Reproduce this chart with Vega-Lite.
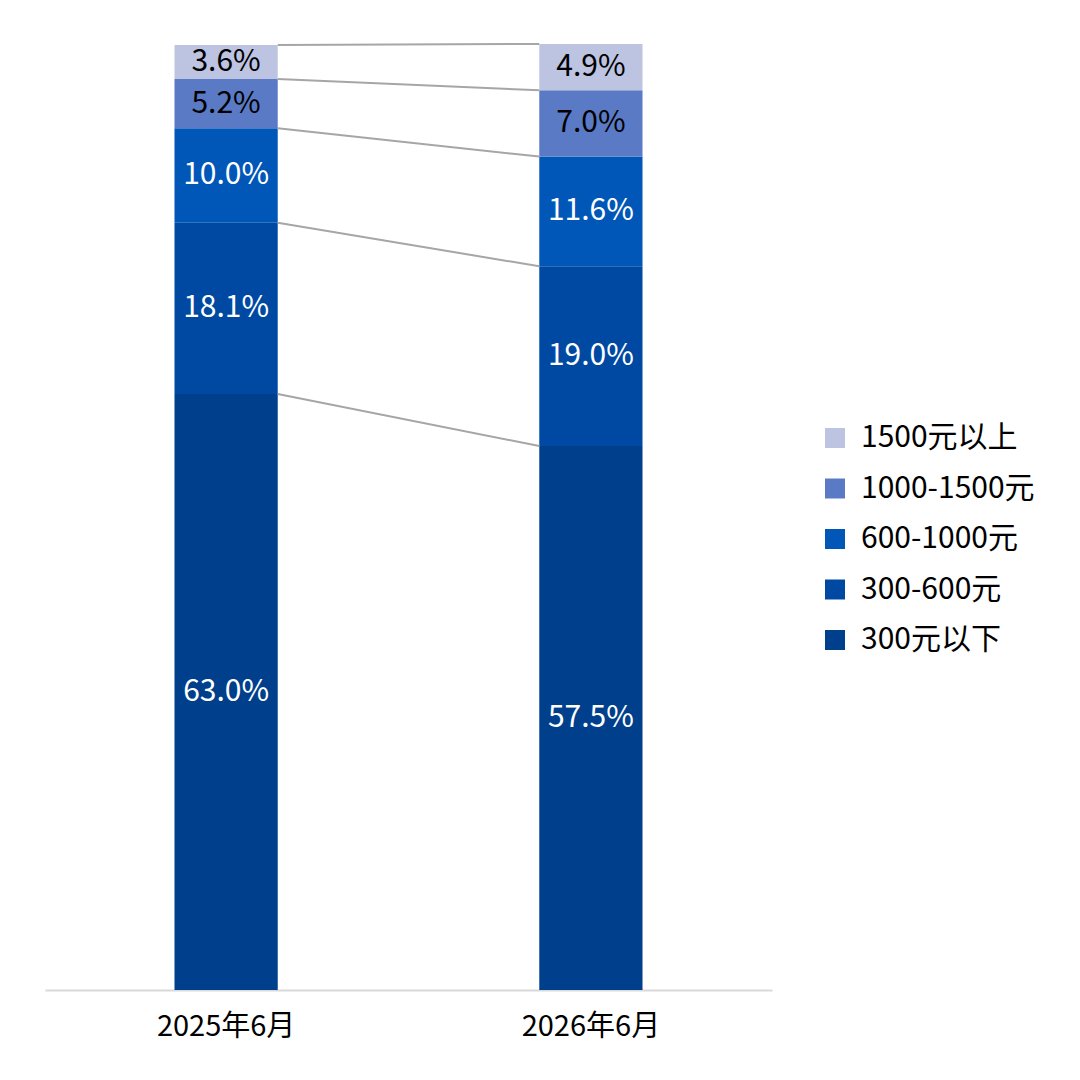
{
  "$schema": "https://vega.github.io/schema/vega-lite/v6.json",
  "width": 727,
  "height": 946,
  "autosize": "none",
  "padding": {"left": 45, "top": 44, "right": 308, "bottom": 90},
  "background": "white",
  "data": {
    "values": [
      {"date": "2025年6月", "cat": "300元以下", "order": 1, "value": 63.0},
      {"date": "2025年6月", "cat": "300-600元", "order": 2, "value": 18.1},
      {"date": "2025年6月", "cat": "600-1000元", "order": 3, "value": 10.0},
      {"date": "2025年6月", "cat": "1000-1500元", "order": 4, "value": 5.2},
      {"date": "2025年6月", "cat": "1500元以上", "order": 5, "value": 3.6},
      {"date": "2026年6月", "cat": "300元以下", "order": 1, "value": 57.5},
      {"date": "2026年6月", "cat": "300-600元", "order": 2, "value": 19.0},
      {"date": "2026年6月", "cat": "600-1000元", "order": 3, "value": 11.6},
      {"date": "2026年6月", "cat": "1000-1500元", "order": 4, "value": 7.0},
      {"date": "2026年6月", "cat": "1500元以上", "order": 5, "value": 4.9}
    ]
  },
  "transform": [
    {"stack": "value", "groupby": ["date"], "sort": [{"field": "order", "order": "ascending"}], "as": ["y0", "y1"]},
    {"calculate": "(datum.y0 + datum.y1) / 2", "as": "ymid"},
    {"calculate": "format(datum.value, '.1f') + '%'", "as": "label"}
  ],
  "layer": [
    {
      "mark": {"type": "bar"},
      "encoding": {
        "x": {
          "field": "date",
          "type": "nominal",
          "scale": {"paddingInner": 0.717, "paddingOuter": 0.355},
          "axis": {
            "title": null,
            "labelAngle": 0,
            "labelFont": "Noto Sans CJK SC",
            "labelFontSize": 29,
            "labelColor": "#000000",
            "labelPadding": 22,
            "ticks": false,
            "domainColor": "#d9d9d9",
            "domainWidth": 2
          }
        },
        "y": {"field": "y0", "type": "quantitative", "scale": {"domain": [0, 100], "nice": false}, "axis": null},
        "y2": {"field": "y1"},
        "color": {
          "field": "cat",
          "type": "nominal",
          "scale": {
            "domain": ["1500元以上", "1000-1500元", "600-1000元", "300-600元", "300元以下"],
            "range": ["#bcc4e2", "#5a7ac6", "#0057b8", "#0049a3", "#003f8c"]
          },
          "legend": {
            "title": null,
            "orient": "none",
            "legendX": 775,
            "legendY": 379,
            "symbolType": "square",
            "symbolSize": 400,
            "symbolStrokeWidth": 0,
            "labelFont": "Noto Sans CJK SC",
            "labelFontSize": 30,
            "labelColor": "#000000",
            "labelOffset": 11,
            "labelLimit": 300,
            "rowPadding": 20.5
          }
        }
      }
    },
    {
      "transform": [
        {"pivot": "date", "value": "y1", "groupby": ["cat"]}
      ],
      "mark": {"type": "rule", "color": "#a6a6a6", "strokeWidth": 2},
      "encoding": {
        "x": {"datum": "2025年6月", "type": "nominal", "bandPosition": 1},
        "x2": {"datum": "2026年6月", "bandPosition": 0},
        "y": {"field": "2025年6月", "type": "quantitative"},
        "y2": {"field": "2026年6月"}
      }
    },
    {
      "mark": {"type": "text", "font": "Noto Sans CJK SC", "fontSize": 30, "baseline": "middle"},
      "encoding": {
        "x": {"field": "date", "type": "nominal"},
        "y": {"field": "ymid", "type": "quantitative"},
        "text": {"field": "label", "type": "nominal"},
        "color": {
          "condition": {"test": "datum.order >= 4", "value": "#000000"},
          "value": "#ffffff"
        }
      }
    }
  ],
  "config": {"view": {"stroke": null}}
}
